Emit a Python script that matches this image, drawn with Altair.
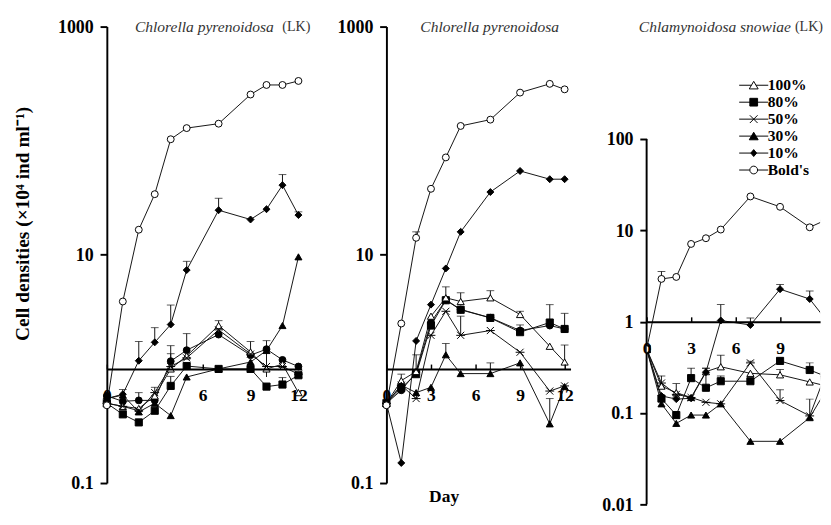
import math
import altair as alt
import pandas as pd

FONT = "Liberation Serif"

# ---------------- data ----------------
SERIES = ["100%", "80%", "50%", "30%", "10%", "Bold's", "ctrl"]
ASTER = "M-1,-1L1,1M-1,1L1,-1M-1.25,0H1.25"
SHAPES = ["triangle-up", "square", ASTER, "triangle-up", "diamond", "circle", "circle"]
FILLS = ["white", "black", "black", "black", "black", "white", "black"]
SIZES = [55, 50, 50, 55, 40, 75, 60]

# Panel 1: Chlorella pyrenoidosa (LK)
P1_DAYS = [0, 1, 2, 3, 4, 5, 7, 9, 10, 11, 12]
P1_BOLDS = [0.48, 3.9, 16.6, 34, 103, 129, 141, 254, 308, 308, 334]
P1_10 = [0.55, 0.6, 1.18, 1.71, 2.45, 7.35, 24.6, 20.4, 25.1, 40.8, 22.3]
P1_30 = [0.55, 0.59, 0.42, 0.5, 0.39, 0.85, 1.0, 1.15, 1.45, 2.4, 9.6]
P1_80 = [0.5, 0.4, 0.34, 0.43, 0.71, 1.06, 1.0, 1.0, 0.7, 0.73, 0.88]
P1_CTRL = [0.58, 0.52, 0.53, 0.53, 1.17, 1.46, 2.0, 1.32, 1.49, 1.2, 1.05]
P1_100 = [0.5, 0.47, 0.45, 0.58, 1.0, 1.3, 2.4, 1.41, 1.0, 1.1, 0.62]
P1_50 = [0.5, 0.47, 0.43, 0.62, 1.05, 1.25, 2.2, 1.35, 1.05, 1.05, 0.9]
P1_ERR_DAY = [2, 3, 4, 5, 7, 11, 12, 1, 2, 3, 4, 4, 4, 5, 7, 9, 10, 11]
P1_ERR_LO = [1.18, 1.71, 2.45, 7.35, 24.6, 40.8, 22.3, 0.59, 0.53, 0.53, 1.17, 1.0, 0.71, 1.46, 2.4, 1.41, 0.85, 0.73]
P1_ERR_HI = [1.74, 2.3, 3.63, 8.77, 31.3, 50.5, 23.8, 0.66, 0.62, 0.69, 1.6, 1.36, 0.86, 2.04, 2.65, 1.74, 1.77, 0.84]

# Panel 2: Chlorella pyrenoidosa
P2_DAYS = [0, 1, 2, 3, 4, 5, 7, 9, 11, 12]
P2_BOLDS = [0.48, 2.5, 14.1, 37.9, 71.4, 134.7, 153, 264, 315, 282]
P2_10 = [0.5, 0.15, 1.76, 3.66, 7.6, 15.9, 35.5, 54.3, 46, 46]
P2_100 = [0.5, 0.79, 0.95, 2.9, 4.2, 3.9, 4.2, 3.0, 1.58, 1.15]
P2_CTRL = [0.5, 0.65, 0.93, 2.55, 4.04, 3.32, 2.81, 2.17, 2.4, 2.24]
P2_80 = [0.5, 0.68, 0.9, 2.4, 4.0, 3.3, 2.8, 2.1, 2.55, 2.24]
P2_50 = [0.5, 0.72, 0.55, 1.97, 3.2, 1.97, 2.17, 1.4, 0.64, 0.71]
P2_30 = [0.5, 0.72, 0.62, 0.69, 1.33, 0.91, 0.91, 1.13, 0.33, 0.7]
P2_ERR_DAY = [2, 4, 5, 5, 7, 9, 9, 11, 12, 12, 2, 4, 7, 11, 1]
P2_ERR_LO = [14.1, 4.2, 3.9, 1.97, 4.2, 3.0, 2.17, 2.55, 2.24, 1.15, 0.95, 1.33, 0.91, 0.33, 0.79]
P2_ERR_HI = [15.9, 5.24, 4.65, 2.9, 4.85, 3.2, 2.43, 3.66, 3.07, 1.62, 1.33, 1.67, 1.13, 0.55, 0.9]

# Panel 3: Chlamynoidosa snowiae (LK)
P3_DAYS = [0, 1, 2, 3, 4, 5, 7, 9, 11, 12]
P3_BOLDS = [0.5, 2.94, 3.09, 7.1, 8.2, 10.2, 23.5, 18.1, 10.8, 12.8]
P3_10 = [0.5, 0.154, 0.142, 0.145, 0.28, 1.03, 0.92, 2.27, 1.77, 1.1]
P3_80 = [0.5, 0.144, 0.095, 0.241, 0.189, 0.223, 0.223, 0.372, 0.296, 0.255]
P3_100 = [0.5, 0.197, 0.167, 0.148, 0.284, 0.321, 0.272, 0.262, 0.219, 0.2]
P3_50 = [0.5, 0.213, 0.16, 0.148, 0.131, 0.126, 0.354, 0.137, 0.093, 0.25]
P3_30 = [0.5, 0.126, 0.077, 0.095, 0.095, 0.126, 0.049, 0.049, 0.089, 0.167]
P3_ERR_DAY = [1, 5, 7, 9, 11, 5, 4, 9, 3, 4, 5, 11, 1, 2, 9, 11, 7]
P3_ERR_LO = [2.94, 1.03, 0.92, 2.27, 1.77, 0.321, 0.284, 0.262, 0.241, 0.189, 0.223, 0.296, 0.213, 0.16, 0.137, 0.093, 0.354]
P3_ERR_HI = [3.55, 1.54, 1.1, 2.56, 2.17, 0.43, 0.31, 0.3, 0.31, 0.31, 0.255, 0.354, 0.255, 0.21, 0.18, 0.142, 0.37]

P12_YTICKS = [0.1, 10, 1000]
P3_YTICKS = [0.01, 0.1, 1, 10, 100]

LEG_LABELS = ["100%", "80%", "50%", "30%", "10%", "Bold's"]
LEG_PATHS = [
    "M-3.75,0H-0.6M0.6,0H3.75M0,-1L1.15,0.95L-1.15,0.95Z",
    "M-3.75,0H3.75M-1,-1H1V1H-1Z",
    "M-3.75,0H3.75M-1,-1L1,1M-1,1L1,-1",
    "M-3.75,0H3.75M0,-1L1.15,0.95L-1.15,0.95Z",
    "M-3.75,0H3.75M0,-0.9L0.75,0L0,0.9L-0.75,0Z",
    "M-3.75,0H-1M1,0H3.75M1,0A1,1,0,1,1,-1,0A1,1,0,1,1,1,0Z",
]
LEG_FILLS = ["white", "black", "black", "black", "black", "white"]


def long_table(days, table):
    recs = []
    for name, vals in table:
        for d, v in zip(days, vals):
            recs.append({"day": d, "value": v, "series": name})
    return pd.DataFrame(recs)


def err_table(days, lo, hi):
    return pd.DataFrame({"day": days, "lo": lo, "hi": hi})


def panel(df, err, xmax, ydom, w, h, yvals, xvals, name, name_dx, lk_x,
          ytitle=None, xtitle=None, clip=False, legend=False, axis_rule=False):
    frac = math.log10(ydom[1]) / (math.log10(ydom[1]) - math.log10(ydom[0]))
    xs = alt.Scale(domain=[0, xmax], nice=False, zero=False)
    ys = alt.Scale(type="log", domain=ydom, nice=False)
    if xtitle:
        xt = dict(title=xtitle, titleX=59, titleY=132, titleFont=FONT,
                  titleFontWeight="bold", titleFontSize=18, titleColor="black",
                  titleAlign="center", titleBaseline="middle", titleAngle=0)
    else:
        xt = dict(title=None)
    if ytitle:
        yt = dict(title=ytitle, titleFont=FONT, titleFontWeight="bold", titleFontSize=20,
                  titleColor="black", titlePadding=26, titleY=203)
    else:
        yt = dict(title=None)
    xa = alt.Axis(orient="top", offset=-frac * h, values=xvals, format="d", tickSize=5,
                  tickWidth=1.5, tickColor="black", domainColor="black", domainWidth=2,
                  labelFont=FONT, labelFontWeight="bold", labelFontSize=18, labelColor="black",
                  labelPadding=-33, labelBaseline="middle", labelFlush=False,
                  labelOverlap=False, grid=False, zindex=1, **xt)
    ya = alt.Axis(orient="left", values=yvals, format="~g", tickSize=7, tickWidth=2,
                  tickColor="black", domain=not axis_rule, domainColor="black", domainWidth=2,
                  labelFont=FONT, labelFontWeight="bold", labelFontSize=18.5, labelColor="black",
                  labelPadding=7, grid=False, **yt)
    X = alt.X("day:Q", scale=xs, axis=xa)

    layers = []
    if axis_rule:
        ax = pd.DataFrame({"lo": [min(yvals)], "hi": [max(yvals)]})
        layers.append(alt.Chart(ax).mark_rule(color="black", strokeWidth=2).encode(
            x=alt.datum(0), y=alt.Y("lo:Q", scale=ys, axis=ya), y2="hi:Q"))
    lines = alt.Chart(df).mark_line(color="#111111", strokeWidth=1, clip=clip).encode(
        x=X, y=alt.Y("value:Q", scale=ys, axis=ya), detail="series:N", order="day:Q")
    rules = alt.Chart(err).mark_rule(color="#111111", strokeWidth=1, clip=clip).encode(
        x=X, y=alt.Y("lo:Q", scale=ys, axis=ya), y2="hi:Q")
    caps = alt.Chart(err).mark_tick(orient="horizontal", size=8, thickness=1,
                                    color="#111111", clip=clip).encode(
        x=X, y=alt.Y("hi:Q", scale=ys, axis=ya))
    pts = alt.Chart(df).mark_point(filled=True, stroke="black", strokeWidth=1, opacity=1,
                                   clip=clip).encode(
        x=X, y=alt.Y("value:Q", scale=ys, axis=ya),
        shape=alt.Shape("series:N", scale=alt.Scale(domain=SERIES, range=SHAPES), legend=None),
        fill=alt.Fill("series:N", scale=alt.Scale(domain=SERIES, range=FILLS), legend=None),
        size=alt.Size("series:O", scale=alt.Scale(domain=SERIES, range=SIZES), legend=None),
    )
    layers += [lines, rules, caps, pts]
    ttl = alt.Chart(pd.DataFrame({"t": [name]})).mark_text(
        align="left", baseline="middle", font=FONT, fontSize=16, fontStyle="italic",
        color="#333333").encode(text="t:N", x=alt.value(name_dx), y=alt.value(1))
    layers.append(ttl)
    if lk_x is not None:
        lk = alt.Chart(pd.DataFrame({"t": ["(LK)"]})).mark_text(
            align="left", baseline="middle", font=FONT, fontSize=14.5, color="#333333").encode(
            text="t:N", x=alt.value(lk_x), y=alt.value(1))
        layers.append(lk)
    if legend:
        lp = dict(title=None, orient="none", legendX=102.5, legendY=52.5, symbolSize=64,
                  symbolStrokeWidth=1, labelFont=FONT,
                  labelFontWeight="bold", labelFontSize=16, labelColor="black",
                  labelOffset=6.5, rowPadding=1.5, padding=0)
        leg = alt.Chart(pd.DataFrame({"lg": LEG_LABELS})).transform_filter("false").mark_point(
            filled=True, size=64, strokeWidth=1, opacity=1).encode(
            shape=alt.Shape("lg:N", scale=alt.Scale(domain=LEG_LABELS, range=LEG_PATHS),
                            legend=alt.Legend(**lp)),
            fill=alt.Fill("lg:N", scale=alt.Scale(domain=LEG_LABELS, range=LEG_FILLS),
                          legend=alt.Legend(**lp)),
            stroke=alt.Stroke("lg:N", scale=alt.Scale(domain=LEG_LABELS,
                                                      range=["black"] * len(LEG_LABELS)),
                              legend=alt.Legend(**lp)),
        )
        layers.append(leg)
    ch = alt.layer(*layers).properties(width=w, height=h).resolve_scale(
        shape="independent", fill="independent", size="independent", stroke="independent")
    return ch


df1 = long_table(P1_DAYS, [("ctrl", P1_CTRL), ("100%", P1_100), ("50%", P1_50), ("80%", P1_80),
                           ("30%", P1_30), ("10%", P1_10), ("Bold's", P1_BOLDS)])
df2 = long_table(P2_DAYS, [("ctrl", P2_CTRL), ("80%", P2_80), ("100%", P2_100), ("50%", P2_50),
                           ("30%", P2_30), ("10%", P2_10), ("Bold's", P2_BOLDS)])
df3 = long_table(P3_DAYS, [("100%", P3_100), ("80%", P3_80), ("50%", P3_50), ("30%", P3_30),
                           ("10%", P3_10), ("Bold's", P3_BOLDS)])

P3_TOP = 100 * 10 ** (116 / 94.25)

p1 = panel(df1, err_table(P1_ERR_DAY, P1_ERR_LO, P1_ERR_HI), 12.2, [0.1, 1000], 201, 471,
           P12_YTICKS, [0, 6, 9, 12], "Chlorella pyrenoidosa", 29, 181,
           ytitle="Cell densities (\u00d710\u2074 ind ml\u207b\u00b9)")
p2 = panel(df2, err_table(P2_ERR_DAY, P2_ERR_LO, P2_ERR_HI), 12.4, [0.1, 1000], 190, 471,
           P12_YTICKS, [0, 3, 6, 9, 12], "Chlorella pyrenoidosa", 35, None, xtitle="Day")
p3 = panel(df3, err_table(P3_ERR_DAY, P3_ERR_LO, P3_ERR_HI), 11.7, [0.01, P3_TOP], 179, 493,
           P3_YTICKS, [0, 3, 6, 9], "Chlamynoidosa snowiae", -8, 153,
           clip=True, legend=True, axis_rule=True)

RES = dict(x="independent", y="independent", shape="independent", fill="independent",
           size="independent", stroke="independent")
inner = alt.hconcat(p1, p2, spacing=27.5).resolve_scale(**RES).resolve_legend(
    shape="independent", fill="independent", stroke="independent")

chart = alt.hconcat(inner, p3, spacing=28).resolve_scale(**RES).resolve_legend(
    shape="independent", fill="independent", stroke="independent").properties(
    padding={"left": 5, "top": 2, "right": 0, "bottom": 0}
).configure_view(stroke=None)

chart.save("out.html", embed_options={"renderer": "svg", "actions": False})
